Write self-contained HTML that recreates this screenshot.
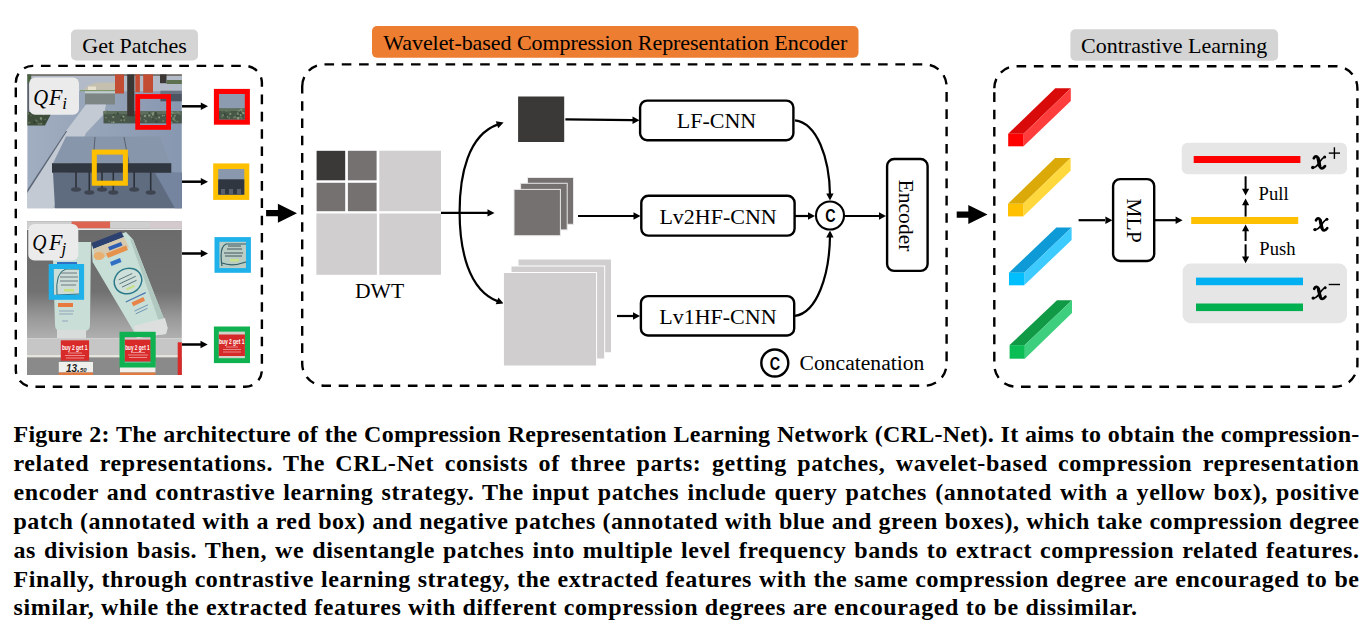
<!DOCTYPE html>
<html><head><meta charset="utf-8">
<style>
html,body{margin:0;padding:0;background:#fff;}
body{width:1371px;height:632px;position:relative;overflow:hidden;}
svg{position:absolute;left:0;top:0;}
.t{font-family:"Liberation Serif",serif;font-size:21.6px;fill:#000;}
.cap{position:absolute;left:13.5px;width:1346px;font-family:"Liberation Serif",serif;font-weight:bold;font-size:24px;color:#000;white-space:nowrap;line-height:28.9px;}
.cap div{height:28.9px;text-align:justify;text-align-last:justify;white-space:normal;}
.cap div.last{text-align-last:left;}
</style></head><body>
<svg width="1371" height="632" viewBox="0 0 1371 632">
<defs>
 <marker id="ah" markerWidth="8" markerHeight="8" refX="7" refY="4" orient="auto" markerUnits="userSpaceOnUse">
  <path d="M0,0.5 L8,4 L0,7.5 Z" fill="#000"/>
 </marker>
</defs>

<!-- ============ LEFT PANEL ============ -->
<rect x="71" y="29.5" width="127" height="31" rx="5" fill="#d4d4d4"/>
<text class="t" style="font-size:22px" x="134.5" y="52.9" text-anchor="middle">Get Patches</text>
<path d="M15.8,82.8 A16.9,16.9 0 0 1 32.7,65.9 L245.0,65.9 A16.9,16.9 0 0 1 261.9,82.8 L261.9,369.9 A16.9,16.9 0 0 1 245.0,386.8 L32.7,386.8 A16.9,16.9 0 0 1 15.8,369.9 Z" fill="none" stroke="#000" stroke-width="2.4" stroke-dasharray="9.6 7.7"/>

<!-- photo 1 -->
<g id="photo1">
 <clipPath id="c1"><rect x="27.2" y="74.2" width="154.6" height="134.2"/></clipPath>
 <linearGradient id="pv" x1="0" y1="0" x2="1" y2="0">
  <stop offset="0" stop-color="#a1adc0"/><stop offset="0.5" stop-color="#95a3b8"/><stop offset="1" stop-color="#8797b0"/>
 </linearGradient>
 <g clip-path="url(#c1)">
  <rect x="27.2" y="74.2" width="155" height="134.2" fill="url(#pv)"/>
  <rect x="27.2" y="74.2" width="155" height="17" fill="#b3bbc8"/>
  <rect x="27.2" y="74.2" width="155" height="1.6" fill="#6a6258"/>
  <path d="M83,91 Q88,83 100,82.5 L118,82.5 L118,91 Z" fill="#c4bfae"/>
  <rect x="88" y="86.5" width="8" height="3.5" fill="#e6e0cc"/>
  <rect x="80" y="90" width="40" height="1.2" fill="#7d9a6a"/>
  <rect x="27.2" y="74.2" width="4" height="9" fill="#4a6242"/><rect x="27.2" y="83" width="2" height="29" fill="#59606a"/>
  <rect x="85" y="91.3" width="30" height="2.4" fill="#c2cccc"/>
  <rect x="85" y="93.5" width="30" height="11" fill="#7d8585"/>
  <polygon points="27.2,112 52,112 45,125.5 27.2,125.5" fill="#3e4d3a"/>
  <polygon points="27.2,208.4 53,208.4 86,133 104,114 106,104.5 86,104.5 66,131 27.2,192" fill="#c3cad3"/>
  <polygon points="27.2,190 66,131 67.2,131 27.2,193" fill="#5a6575"/>
  <rect x="103.5" y="111.2" width="79" height="12.2" fill="#48574a"/>
  <rect x="103.5" y="111.2" width="79" height="3" fill="#5e6e5e"/>
<g><circle cx="122.3" cy="117.5" r="1.2" fill="#3a4a3a"/><circle cx="140.5" cy="117.9" r="0.6" fill="#8a9a80"/><circle cx="168.5" cy="114.4" r="0.7" fill="#7d8f74"/><circle cx="159.2" cy="117.5" r="0.9" fill="#8a9a80"/><circle cx="153.2" cy="113.2" r="1.2" fill="#7d8f74"/><circle cx="144.3" cy="119.7" r="0.7" fill="#6b7d66"/><circle cx="177.7" cy="112.0" r="1.2" fill="#6b7d66"/><circle cx="124.7" cy="118.0" r="1.1" fill="#5a6b55"/><circle cx="174.9" cy="115.8" r="0.9" fill="#8a9a80"/><circle cx="176.0" cy="121.2" r="0.6" fill="#6b7d66"/><circle cx="142.1" cy="114.3" r="1.1" fill="#5a6b55"/><circle cx="169.9" cy="116.1" r="1.0" fill="#5a6b55"/><circle cx="145.1" cy="116.0" r="1.2" fill="#7d8f74"/><circle cx="156.5" cy="121.7" r="1.3" fill="#3a4a3a"/><circle cx="155.7" cy="113.3" r="1.3" fill="#3a4a3a"/><circle cx="173.7" cy="117.8" r="1.0" fill="#7d8f74"/><circle cx="180.1" cy="114.4" r="0.6" fill="#6b7d66"/><circle cx="169.8" cy="122.4" r="0.8" fill="#6b7d66"/><circle cx="109.1" cy="121.4" r="0.8" fill="#6b7d66"/><circle cx="163.2" cy="121.1" r="1.0" fill="#6b7d66"/><circle cx="162.6" cy="115.7" r="0.8" fill="#8a9a80"/><circle cx="171.8" cy="122.3" r="0.8" fill="#8a9a80"/><circle cx="106.8" cy="111.6" r="1.0" fill="#6b7d66"/><circle cx="106.4" cy="113.7" r="0.8" fill="#5a6b55"/><circle cx="124.3" cy="119.1" r="0.8" fill="#3a4a3a"/><circle cx="177.8" cy="121.4" r="0.9" fill="#5a6b55"/><circle cx="171.0" cy="115.7" r="1.1" fill="#8a9a80"/><circle cx="111.9" cy="122.2" r="0.8" fill="#8a9a80"/><circle cx="152.8" cy="119.4" r="0.9" fill="#3a4a3a"/><circle cx="123.9" cy="114.8" r="0.6" fill="#3a4a3a"/><circle cx="136.0" cy="117.9" r="0.9" fill="#6b7d66"/><circle cx="149.4" cy="113.0" r="0.9" fill="#3a4a3a"/><circle cx="156.3" cy="115.4" r="1.1" fill="#3a4a3a"/><circle cx="105.7" cy="112.2" r="1.3" fill="#6b7d66"/><circle cx="123.3" cy="116.5" r="1.0" fill="#8a9a80"/><circle cx="117.7" cy="113.5" r="1.2" fill="#3a4a3a"/><circle cx="124.3" cy="120.2" r="1.1" fill="#6b7d66"/><circle cx="106.1" cy="117.8" r="0.8" fill="#7d8f74"/><circle cx="121.1" cy="120.3" r="0.8" fill="#7d8f74"/><circle cx="156.2" cy="118.6" r="0.7" fill="#6b7d66"/><circle cx="128.8" cy="115.2" r="0.9" fill="#7d8f74"/><circle cx="169.9" cy="113.4" r="1.1" fill="#3a4a3a"/><circle cx="120.8" cy="117.8" r="0.8" fill="#3a4a3a"/><circle cx="113.3" cy="117.3" r="0.8" fill="#7d8f74"/><circle cx="168.4" cy="117.8" r="0.8" fill="#3a4a3a"/><circle cx="167.8" cy="112.4" r="0.8" fill="#8a9a80"/><circle cx="114.0" cy="114.7" r="0.9" fill="#3a4a3a"/><circle cx="152.8" cy="114.7" r="0.9" fill="#8a9a80"/><circle cx="174.9" cy="113.2" r="0.9" fill="#6b7d66"/><circle cx="168.1" cy="118.3" r="0.9" fill="#8a9a80"/><circle cx="177.2" cy="121.7" r="0.6" fill="#7d8f74"/><circle cx="139.2" cy="119.8" r="1.3" fill="#8a9a80"/><circle cx="145.9" cy="121.3" r="1.2" fill="#6b7d66"/><circle cx="178.8" cy="112.8" r="0.6" fill="#7d8f74"/><circle cx="173.6" cy="119.1" r="1.2" fill="#7d8f74"/><circle cx="173.3" cy="117.8" r="0.9" fill="#6b7d66"/><circle cx="113.3" cy="117.0" r="1.1" fill="#7d8f74"/><circle cx="144.4" cy="116.1" r="0.7" fill="#8a9a80"/><circle cx="113.7" cy="122.2" r="0.9" fill="#8a9a80"/><circle cx="164.2" cy="115.4" r="0.7" fill="#7d8f74"/><circle cx="172.3" cy="112.8" r="1.2" fill="#7d8f74"/><circle cx="175.0" cy="120.4" r="0.9" fill="#6b7d66"/><circle cx="148.0" cy="115.9" r="0.8" fill="#3a4a3a"/><circle cx="151.6" cy="117.2" r="0.9" fill="#6b7d66"/><circle cx="163.8" cy="111.5" r="1.1" fill="#6b7d66"/><circle cx="107.6" cy="112.0" r="1.3" fill="#5a6b55"/><circle cx="169.8" cy="112.4" r="0.9" fill="#8a9a80"/><circle cx="116.1" cy="112.3" r="1.1" fill="#5a6b55"/><circle cx="149.2" cy="115.5" r="1.3" fill="#7d8f74"/><circle cx="137.0" cy="112.9" r="1.1" fill="#6b7d66"/><circle cx="34.5" cy="113.5" r="0.6" fill="#7d8f74"/><circle cx="36.0" cy="120.3" r="1.0" fill="#5a6b55"/><circle cx="28.3" cy="123.1" r="0.8" fill="#6b7d66"/><circle cx="36.7" cy="120.9" r="1.2" fill="#5a6b55"/><circle cx="35.2" cy="112.7" r="0.9" fill="#7d8f74"/><circle cx="40.4" cy="113.4" r="0.7" fill="#5a6b55"/><circle cx="29.9" cy="112.8" r="0.8" fill="#2f3d30"/><circle cx="44.1" cy="122.0" r="0.7" fill="#2f3d30"/><circle cx="40.3" cy="123.8" r="1.0" fill="#5a6b55"/><circle cx="41.1" cy="119.3" r="1.1" fill="#6b7d66"/><circle cx="40.8" cy="118.2" r="1.1" fill="#7d8f74"/><circle cx="28.3" cy="113.6" r="1.0" fill="#6b7d66"/><circle cx="34.5" cy="122.3" r="1.1" fill="#2f3d30"/><circle cx="29.7" cy="122.6" r="1.1" fill="#5a6b55"/><circle cx="45.1" cy="119.4" r="0.6" fill="#6b7d66"/><circle cx="41.7" cy="118.6" r="0.7" fill="#7d8f74"/><circle cx="41.4" cy="123.7" r="0.9" fill="#6b7d66"/><circle cx="43.6" cy="114.7" r="0.7" fill="#6b7d66"/><circle cx="30.8" cy="115.5" r="0.8" fill="#5a6b55"/><circle cx="38.6" cy="123.8" r="1.2" fill="#5a6b55"/></g>
  <rect x="160.4" y="90.7" width="22" height="3.5" fill="#6a7382"/>
  <rect x="160.4" y="94" width="22" height="7.3" fill="#4e5562"/>
  <rect x="127.2" y="74.2" width="7.2" height="42" fill="#3b3735"/>
  <rect x="160" y="74.2" width="6.5" height="9" fill="#3b3735"/>
  <rect x="166.5" y="80" width="16" height="4" fill="#5d7050"/>
  <rect x="115" y="74.2" width="9" height="19.3" fill="#c24d32"/>
  <rect x="135.3" y="74.2" width="4.6" height="18" fill="#c24d32"/>
  <rect x="143.2" y="74.2" width="9.8" height="18.5" fill="#c24d32"/>
  <polygon points="66,136.5 160,136.5 170,163.2 53,163.2" fill="#8896ab"/>
  <line x1="95" y1="137" x2="93" y2="163" stroke="#4a5260" stroke-width="0.8"/>
  <line x1="124" y1="137" x2="129" y2="163" stroke="#4a5260" stroke-width="0.8"/>
  <polygon points="53,172.8 182,172.8 182,208.4 55,208.4" fill="#5f6c80"/>
  <polygon points="155,172.8 182,172.8 182,208.4 175,208.4" fill="#7585a0"/>
  <rect x="52" y="163.2" width="119.3" height="9.6" fill="#313740"/>
  <g stroke="#2c3038" stroke-width="1.6">
   <line x1="76" y1="172" x2="76" y2="189"/><line x1="89.3" y1="172" x2="89.3" y2="192"/>
   <line x1="102" y1="172" x2="102" y2="189"/><line x1="113.3" y1="172" x2="113.3" y2="192"/>
   <line x1="134.2" y1="172" x2="134.2" y2="189"/><line x1="150.7" y1="172" x2="150.7" y2="192"/>
  </g>
  <g fill="#3e4450">
   <ellipse cx="76" cy="189.5" rx="5" ry="2.2"/><ellipse cx="89.3" cy="192.5" rx="5" ry="2.2"/>
   <ellipse cx="102" cy="189.5" rx="5" ry="2.2"/><ellipse cx="113.3" cy="192.5" rx="5" ry="2.2"/>
   <ellipse cx="134.2" cy="189.5" rx="5" ry="2.2"/><ellipse cx="150.7" cy="192.5" rx="5" ry="2.2"/>
  </g>
  <rect x="94.3" y="152.1" width="31.1" height="31.1" fill="none" stroke="#ffc000" stroke-width="5"/>
  <rect x="137.7" y="96.5" width="30.9" height="30.9" fill="none" stroke="#ff0000" stroke-width="4.8"/>
 </g>
 <rect x="29.2" y="77.4" width="49.8" height="37.4" rx="6" fill="#ebebeb"/>
 <g style="font-family:'Liberation Serif',serif;font-style:italic;font-size:24px">
  <text transform="translate(33.2,104.7) scale(0.86,1)">Q</text>
  <text transform="translate(49,104.7) scale(0.92,1)">F</text>
  <text x="62.3" y="109.4" style="font-size:17px">i</text>
 </g>
</g>
<!-- photo 2 -->
<g id="photo2">
 <clipPath id="c2"><rect x="27" y="221.3" width="154.8" height="153.8"/></clipPath>
 <linearGradient id="bg2" x1="0" y1="0" x2="0" y2="1">
  <stop offset="0" stop-color="#6a6a6a"/><stop offset="0.6" stop-color="#717171"/><stop offset="0.82" stop-color="#989898"/><stop offset="1" stop-color="#b0b0b0"/>
 </linearGradient>
 <g clip-path="url(#c2)">
  <rect x="27" y="221.3" width="155" height="117" fill="url(#bg2)"/>
  <rect x="27" y="221.3" width="155" height="7.2" fill="#cfcfcf"/>
  <rect x="71.6" y="221.3" width="38.5" height="7" fill="#dc6450"/>
  <rect x="150" y="221.3" width="32" height="7" fill="#d4cacd"/>
  <rect x="27" y="228.5" width="155" height="1.5" fill="#e6e6e6"/>
  <rect x="27" y="338.3" width="155" height="17.2" fill="#c6c6c6"/>
  <rect x="27" y="355.3" width="155" height="2" fill="#e6e6dc"/>
  <rect x="27" y="357.3" width="155" height="18" fill="#8a8a8a"/>
  <!-- left tube -->
  <path d="M52.5,242 L91,242 L90,325 Q90,331 84,331 L61,331 Q55,331 55,325 Z" fill="#c8ded6"/>
  <rect x="57" y="330" width="29" height="8" fill="#d8dcda"/>
  <rect x="58" y="303" width="15" height="4" fill="#e87a40"/>
  <rect x="57" y="262" width="20" height="3" fill="#2f6fc4"/>
  <path d="M57,295 Q55,272 66,269 L80,269 L80,294 Z" fill="#cddcd6" stroke="#2a6a7a" stroke-width="1"/>
  <g stroke="#50606a" stroke-width="0.8"><line x1="61" y1="273" x2="77" y2="273"/><line x1="60" y1="277" x2="78" y2="277"/><line x1="60" y1="281" x2="78" y2="281"/><line x1="61" y1="285" x2="76" y2="285"/></g>
  <rect x="64" y="289" width="10" height="2.5" fill="#c8e080"/>
  <g stroke="#7a90b0" stroke-width="0.7"><line x1="59" y1="311" x2="74" y2="311"/><line x1="59" y1="314" x2="73" y2="314"/><line x1="62" y1="321" x2="68" y2="321"/></g>
  <!-- right tube -->
  <path d="M91.7,246 L126,232 L133,239.5 L167.6,328 L166,334 L137,337.5 L133.5,331 L92.6,262 Z" fill="#c8dfd7"/>
  <path d="M130,239 L133,239.5 L167.6,328 L162,330 Z" fill="#b0c8c0"/>
  <polygon points="91.7,243 121,231.6 124,237 93.2,249" fill="#2d4170"/>
  <polygon points="93.2,249 124,237 129,247.5 95.5,260.5" fill="#d6c9ae"/>
  <ellipse cx="99" cy="256" rx="5.5" ry="4" fill="#e8b070"/>
  <polygon points="108,247 121,242 122.5,245.5 109.5,250.5" fill="#2f5fb4"/>
  <polygon points="106,253.5 126,245.5 128,250 108,258" fill="#e6924c"/>
  <polygon points="110,262 120,258 121.5,262 111.5,266" fill="#2f6fc4"/>
  <g transform="rotate(-25 128 281)">
   <ellipse cx="128" cy="281" rx="14" ry="12.5" fill="#cfe0da" stroke="#2a7a8a" stroke-width="1.5"/>
   <g stroke="#4a6a70" stroke-width="0.8"><line x1="120" y1="276" x2="135" y2="276"/><line x1="119" y1="280" x2="137" y2="280"/><line x1="120" y1="284" x2="136" y2="284"/></g>
   <rect x="123" y="287" width="9" height="2.2" fill="#c6df88"/>
  </g>
  <g transform="rotate(-25 137 300)">
   <line x1="126" y1="297" x2="148" y2="297" stroke="#4a78b0" stroke-width="1.2"/>
   <rect x="131" y="300" width="13" height="4" fill="#e8844a"/>
   <line x1="130" y1="309" x2="145" y2="309" stroke="#6a8ab0" stroke-width="0.8"/>
   <line x1="130" y1="312" x2="143" y2="312" stroke="#6a8ab0" stroke-width="0.8"/>
  </g>
  <polygon points="133.5,326 165,318 167.6,328 166,334 137,338" fill="#dcdfde"/>
  <!-- tags -->
  <rect x="60.8" y="340.3" width="28.3" height="20.4" fill="#d92a2a"/>
  <rect x="124.5" y="339.7" width="26.3" height="21.6" fill="#d92a2a"/>
  <rect x="177.7" y="342.3" width="5" height="33" fill="#d92a2a"/>
  <rect x="58.8" y="362" width="34.2" height="10.5" fill="#efefec"/>
  <rect x="58.8" y="372.5" width="34.2" height="3" fill="#e07a40"/>
  <rect x="120" y="362" width="35.4" height="10.5" fill="#efefec"/>
  <rect x="120" y="372.5" width="35.4" height="3" fill="#e07a40"/>
  <g style="font-family:'Liberation Sans',sans-serif;font-weight:bold;font-size:8px" fill="#fff">
   <text x="62" y="350" textLength="25.5" lengthAdjust="spacingAndGlyphs">buy 2 get 1</text>
   <text x="125.2" y="349.5" textLength="24.5" lengthAdjust="spacingAndGlyphs">buy 2 get 1</text>
  </g>
  <g stroke="#f3b8b8" stroke-width="0.7">
   <line x1="68" y1="353" x2="82" y2="353"/><line x1="65" y1="355.5" x2="85" y2="355.5"/><line x1="66" y1="358" x2="84" y2="358"/>
   <line x1="131" y1="352.5" x2="145" y2="352.5"/><line x1="128" y1="355" x2="148" y2="355"/><line x1="129" y1="357.5" x2="147" y2="357.5"/>
  </g>
  <text x="66" y="372" style="font-family:'Liberation Sans',sans-serif;font-style:italic;font-weight:bold;font-size:10px" fill="#222">13.<tspan font-size="6">50</tspan></text>
  <rect x="51.2" y="266.5" width="30.4" height="30.8" fill="none" stroke="#1fb1ea" stroke-width="5"/>
  <rect x="122.1" y="334.4" width="31" height="30.5" fill="none" stroke="#0fb151" stroke-width="5.2"/>
 </g>
 <rect x="28.3" y="223.9" width="50" height="36.7" rx="6" fill="#ebebeb"/>
 <g style="font-family:'Liberation Serif',serif;font-style:italic;font-size:24px">
  <text transform="translate(32.2,249.8) scale(0.82,1)">Q</text>
  <text transform="translate(49,249.8) scale(0.92,1)">F</text>
  <text x="61.5" y="254.3" style="font-size:17px">j</text>
 </g>
</g>
<!-- left arrows -->
<g stroke="#000" stroke-width="2.5">
 <line x1="182" y1="106.3" x2="202" y2="106.3"/>
 <line x1="182" y1="181.7" x2="202" y2="181.7"/>
 <line x1="182" y1="253.5" x2="202" y2="253.5"/>
 <line x1="182" y1="344.5" x2="202" y2="344.5"/>
</g>
<g fill="#000">
 <path d="M200.8,102.6 L208.0,106.3 L200.8,110.0 Z"/>
 <path d="M200.8,178.0 L208.0,181.7 L200.8,185.4 Z"/>
 <path d="M200.8,249.8 L208.0,253.5 L200.8,257.2 Z"/>
 <path d="M200.5,340.8 L207.7,344.5 L200.5,348.2 Z"/>
</g>

<!-- patches -->
<rect x="213.9" y="88.9" width="36" height="35.8" fill="#ff0000"/>
<rect x="219" y="94" width="25.8" height="25.5" fill="#8d9bb1"/>
<rect x="219" y="108.5" width="25.8" height="11" fill="#475747"/>
<rect x="219" y="108.5" width="25.8" height="2.5" fill="#5f705d"/>
<g><circle cx="228.8" cy="111.4" r="1.2" fill="#5a6b55"/><circle cx="243.5" cy="113.2" r="1.1" fill="#8a9a80"/><circle cx="236.2" cy="114.2" r="0.7" fill="#5a6b55"/><circle cx="229.4" cy="117.9" r="0.7" fill="#7d8f74"/><circle cx="238.1" cy="118.2" r="1.3" fill="#8a9a80"/><circle cx="234.0" cy="117.6" r="0.8" fill="#7d8f74"/><circle cx="224.4" cy="114.9" r="1.3" fill="#354535"/><circle cx="240.6" cy="114.4" r="1.1" fill="#354535"/><circle cx="240.7" cy="115.0" r="1.0" fill="#8a9a80"/><circle cx="226.1" cy="111.2" r="0.8" fill="#6b7d66"/><circle cx="239.4" cy="111.0" r="0.9" fill="#8a9a80"/><circle cx="227.5" cy="116.7" r="0.9" fill="#7d8f74"/><circle cx="236.8" cy="116.0" r="0.9" fill="#7d8f74"/><circle cx="240.2" cy="117.2" r="0.6" fill="#8a9a80"/><circle cx="244.1" cy="109.7" r="1.1" fill="#5a6b55"/><circle cx="241.4" cy="109.5" r="1.2" fill="#7d8f74"/><circle cx="235.6" cy="116.8" r="1.3" fill="#6b7d66"/><circle cx="240.7" cy="111.4" r="1.1" fill="#7d8f74"/><circle cx="222.9" cy="115.2" r="1.2" fill="#6b7d66"/><circle cx="225.8" cy="117.7" r="0.7" fill="#354535"/><circle cx="221.8" cy="117.0" r="0.7" fill="#6b7d66"/><circle cx="240.2" cy="111.9" r="0.9" fill="#354535"/><circle cx="237.7" cy="112.4" r="0.8" fill="#6b7d66"/><circle cx="230.3" cy="113.9" r="1.1" fill="#7d8f74"/><circle cx="237.9" cy="113.9" r="1.0" fill="#7d8f74"/><circle cx="222.5" cy="111.7" r="0.7" fill="#5a6b55"/><circle cx="241.5" cy="118.1" r="1.0" fill="#6b7d66"/><circle cx="236.9" cy="115.8" r="1.1" fill="#354535"/><circle cx="226.8" cy="115.8" r="0.7" fill="#354535"/><circle cx="242.9" cy="112.4" r="1.0" fill="#8a9a80"/></g>
<rect x="213.2" y="163.4" width="36.1" height="36.5" fill="#ffc000"/>
<rect x="218.2" y="169" width="26.1" height="25.7" fill="#8a98ad"/>
<rect x="218.2" y="179.3" width="26.1" height="15.4" fill="#30363f"/>
<g fill="#59606c"><rect x="221" y="189" width="4" height="5.7"/><rect x="229" y="189" width="4" height="5.7"/><rect x="237" y="189" width="4" height="5.7"/></g>
<rect x="214.5" y="237.1" width="36.4" height="35.7" fill="#1fb1ea"/>
<rect x="219.4" y="241.8" width="26.6" height="26.3" fill="#b9cdc5"/>
<path d="M222,266 Q219,247 226,244 L246,244" fill="none" stroke="#2f5f6a" stroke-width="1.2"/>
<path d="M222,263 Q232,267 246,262" fill="none" stroke="#2f5f6a" stroke-width="1.2"/>
<g stroke="#44545a" stroke-width="1"><line x1="228" y1="246" x2="241" y2="246"/><line x1="227" y1="249" x2="242" y2="249"/><line x1="224" y1="253" x2="243" y2="253"/><line x1="225" y1="256" x2="242" y2="256"/></g>
<rect x="230" y="259" width="9" height="2.5" fill="#c6df88"/>
<rect x="213.9" y="326.5" width="36.1" height="36.6" fill="#0fb151"/>
<rect x="218.8" y="331.6" width="26.1" height="26.6" fill="#d3d0c8"/>
<rect x="218.8" y="334.5" width="26.1" height="21.5" fill="#d62a2a"/>
<text x="219" y="343.5" fill="#fff" style="font-family:'Liberation Sans',sans-serif;font-weight:bold;font-size:7px" textLength="25.5" lengthAdjust="spacingAndGlyphs">buy 2 get 1</text>
<g stroke="#f0b0b0" stroke-width="0.7"><line x1="226" y1="347" x2="238" y2="347"/><line x1="223" y1="349.5" x2="241" y2="349.5"/><line x1="223" y1="352" x2="241" y2="352"/></g>
<!-- thick arrows -->
<path d="M266.1,210.1 H277.9 V203.7 L297,213.2 L277.9,222.7 V216.3 H266.1 Z" fill="#000"/>
<path d="M956.7,211.6 H968.3 V205.1 L987.5,214.6 L968.3,224.1 V217.7 H956.7 Z" fill="#000"/>

<!-- ============ MIDDLE PANEL ============ -->
<rect x="372" y="26.1" width="486.5" height="31.6" rx="5" fill="#ed7d31"/>
<text class="t" x="383.3" y="49.9" textLength="464" style="font-size:22px">Wavelet-based Compression Representation Encoder</text>
<path d="M302.2,86.4 A22.0,22.0 0 0 1 324.2,64.4 L924.6,64.4 A22.0,22.0 0 0 1 946.6,86.4 L946.6,363.7 A22.0,22.0 0 0 1 924.6,385.7 L324.2,385.7 A22.0,22.0 0 0 1 302.2,363.7 Z" fill="none" stroke="#000" stroke-width="2.4" stroke-dasharray="9.6 7.7"/>

<!-- DWT grid -->
<g fill="#d0cece">
 <rect x="379.3" y="150.7" width="61.7" height="60.5"/>
 <rect x="316.4" y="213.5" width="60.5" height="61.3"/>
 <rect x="379.3" y="213.5" width="61.7" height="61.3"/>
</g>
<rect x="316.6" y="150.8" width="28.6" height="29.5" fill="#3b3838"/>
<g fill="#767171">
 <rect x="347.9" y="150.8" width="28.7" height="29.5"/>
 <rect x="316.6" y="182.8" width="28.6" height="28.4"/>
 <rect x="347.9" y="182.8" width="28.7" height="28.4"/>
</g>
<text class="t" x="379.5" y="298.2" text-anchor="middle">DWT</text>

<!-- arrows from DWT -->
<g fill="none" stroke="#000" stroke-width="2.2">
 <line x1="441" y1="212.9" x2="488" y2="212.9"/>
 <path d="M498,124.4 C468,135 459.6,175 459.6,212 C459.6,249 468,290 498,301.4"/>
</g>
<g fill="#000">
<path d="M494.5,212.9 L487.5,216.6 L487.5,209.2 Z"/><path d="M503.6,122.4 L498.2,128.2 L495.8,121.3 Z"/><path d="M503.6,303.4 L495.7,304.3 L498.4,297.4 Z"/>
</g>
<!-- LF square -->
<rect x="518.1" y="96.5" width="46.1" height="45.5" fill="#3b3838"/>
<!-- Lv2 stack -->
<rect x="527.5" y="177.5" width="46" height="46.8" fill="#767171" stroke="#e8e8e8" stroke-width="1"/>
<rect x="520.6" y="183.3" width="46.6" height="46.6" fill="#767171" stroke="#e8e8e8" stroke-width="1"/>
<rect x="514" y="189.4" width="46.4" height="46.3" fill="#767171" stroke="#e8e8e8" stroke-width="1"/>
<!-- Lv1 stack -->
<rect x="518" y="259" width="93.5" height="93.8" fill="#d0cece" stroke="#fff" stroke-width="1"/>
<rect x="511" y="266" width="93.7" height="93" fill="#d0cece" stroke="#fff" stroke-width="1"/>
<rect x="503.4" y="272.5" width="93.2" height="93.5" fill="#d0cece" stroke="#fff" stroke-width="1"/>

<!-- CNN boxes -->
<g fill="#fff" stroke="#000" stroke-width="2.4">
 <rect x="640.1" y="100.6" width="153.3" height="39.6" rx="7"/>
 <rect x="641.3" y="195.8" width="153.3" height="39.8" rx="7"/>
 <rect x="640.9" y="296.1" width="153.3" height="39.4" rx="7"/>
 <rect x="887.1" y="159" width="40.5" height="111.9" rx="7"/>
</g>
<circle cx="830" cy="215.5" r="14" fill="#fff" stroke="#000" stroke-width="2.1"/>
<text class="t" style="font-size:22px" x="716.5" y="128" text-anchor="middle">LF-CNN</text>
<text class="t" style="font-size:22px" x="718.1" y="223.7" text-anchor="middle">Lv2HF-CNN</text>
<text class="t" style="font-size:22px" x="717.9" y="323.8" text-anchor="middle">Lv1HF-CNN</text>
<text class="t" transform="translate(899,215.5) rotate(90)" text-anchor="middle">Encoder</text>
<text transform="translate(830.4,221.9) scale(0.82,1)" text-anchor="middle" style="font-family:'Liberation Sans',sans-serif;font-weight:bold;font-size:17.5px">C</text>

<!-- middle arrows -->
<g fill="none" stroke="#000" stroke-width="2.2">
 <line x1="565.4" y1="119.3" x2="633" y2="120.2"/>
 <line x1="578" y1="216" x2="634" y2="216"/>
 <line x1="617" y1="316" x2="634" y2="316"/>
 <line x1="795" y1="216" x2="809" y2="216"/>
 <line x1="844.5" y1="216" x2="880" y2="216"/>
 <path d="M795,120.4 C817,123 829.5,158 830,195"/>
 <path d="M795,315.8 C817,313 829.5,275 830,236"/>
</g>
<g fill="#000">
<path d="M639.5,120.3 L632.5,123.9 L632.5,116.5 Z"/><path d="M640.5,216.0 L633.5,219.7 L633.5,212.3 Z"/><path d="M640.0,316.0 L633.0,319.7 L633.0,312.3 Z"/><path d="M815.0,216.0 L808.0,219.7 L808.0,212.3 Z"/><path d="M886.0,216.0 L879.0,219.7 L879.0,212.3 Z"/><path d="M830.0,200.6 L826.2,193.6 L833.6,193.6 Z"/><path d="M830.0,230.4 L833.6,237.4 L826.2,237.4 Z"/>
</g>

<!-- concatenation legend -->
<circle cx="774.8" cy="363" r="13.5" fill="#fff" stroke="#000" stroke-width="2.4"/>
<text transform="translate(775,370) scale(0.82,1)" text-anchor="middle" style="font-family:'Liberation Sans',sans-serif;font-weight:bold;font-size:17.5px">C</text>
<text class="t" x="799.6" y="369.8">Concatenation</text>

<!-- ============ RIGHT PANEL ============ -->
<rect x="1070.4" y="29.2" width="207.7" height="31.6" rx="5" fill="#d4d4d4"/>
<text class="t" style="font-size:22px" x="1174.2" y="52.7" text-anchor="middle">Contrastive Learning</text>
<path d="M994.3,88.2 A22.0,22.0 0 0 1 1016.3,66.2 L1335.4,66.2 A22.0,22.0 0 0 1 1357.4,88.2 L1357.4,364.7 A22.0,22.0 0 0 1 1335.4,386.7 L1016.3,386.7 A22.0,22.0 0 0 1 994.3,364.7 Z" fill="none" stroke="#000" stroke-width="2.4" stroke-dasharray="9.6 7.7"/>

<!-- 3D bars -->
<g id="bars">
 <!-- red -->
 <polygon points="1008.2,133.7 1055.3,88.3 1070.8,88.3 1023.6,133.7" fill="#d90a0a"/>
 <polygon points="1023.6,133.7 1070.8,88.3 1070.8,101 1023.6,146.3" fill="#ff3d3d"/>
 <rect x="1008.2" y="133.7" width="15.4" height="12.6" fill="#ff0000"/>
 <!-- yellow -->
 <polygon points="1008,203.8 1055.1,158.1 1070.6,158.1 1023.2,203.8" fill="#dcaa08"/>
 <polygon points="1023.2,203.8 1070.6,158.1 1070.6,170.8 1023.2,216.4" fill="#ffd83d"/>
 <rect x="1008" y="203.8" width="15.2" height="12.6" fill="#ffc000"/>
 <!-- blue -->
 <polygon points="1009,272.7 1056.4,227.5 1071.6,227.5 1024.2,272.7" fill="#0d9ad6"/>
 <polygon points="1024.2,272.7 1071.6,227.5 1071.6,240 1024.2,285.3" fill="#3dcaff"/>
 <rect x="1009" y="272.7" width="15.2" height="12.6" fill="#00bfff"/>
 <!-- green -->
 <polygon points="1009.6,345.1 1057,300.2 1072,300.2 1024.8,345.1" fill="#109a46"/>
 <polygon points="1024.8,345.1 1072,300.2 1072,313 1024.8,358.7" fill="#3dcf7d"/>
 <rect x="1009.6" y="345.1" width="15.2" height="13.6" fill="#0bbd55"/>
</g>

<!-- MLP -->
<rect x="1113.1" y="179.1" width="41.1" height="81.9" rx="7" fill="#fff" stroke="#000" stroke-width="2.4"/>
<text class="t" transform="translate(1133.7,220.5) rotate(90)" text-anchor="middle" dy="7">MLP</text>
<g fill="none" stroke="#000" stroke-width="2.2">
 <line x1="1078.6" y1="220.2" x2="1105" y2="220.2"/>
 <line x1="1154.5" y1="220.2" x2="1176" y2="220.2"/>
</g>
<g fill="#000">
 <path d="M1105.4,216.5 L1112.4,220.2 L1105.4,223.9 Z"/>
 <path d="M1175.6,216.5 L1182.6,220.2 L1175.6,223.9 Z"/>
</g>

<!-- x+ / x- boxes -->
<rect x="1181.7" y="142.7" width="165.3" height="31.6" rx="6" fill="#e7e6e6"/>
<rect x="1193.7" y="156" width="106.7" height="7" fill="#ff0000"/>
<rect x="1182.6" y="263.6" width="164.4" height="59.6" rx="8" fill="#e7e6e6"/>
<rect x="1196" y="277.6" width="107" height="7.6" fill="#00b0f0"/>
<rect x="1196" y="303.5" width="107" height="7.6" fill="#00b050"/>
<rect x="1191.2" y="217" width="107" height="7" fill="#ffc000"/>

<!-- pull/push arrows -->
<g fill="none" stroke="#000" stroke-width="2">
 <line x1="1245.6" y1="176.3" x2="1245.6" y2="190"/>
 <line x1="1245.6" y1="216.6" x2="1245.6" y2="204"/>
 <line x1="1245.6" y1="230" x2="1245.6" y2="241"/>
 <line x1="1245.6" y1="244.3" x2="1245.6" y2="257.5"/>
</g>
<g fill="#000">
 <path d="M1242,188.8 L1245.6,195.5 L1249.2,188.8 Z"/>
 <path d="M1242,205.2 L1245.6,198.5 L1249.2,205.2 Z"/>
 <path d="M1242,231.2 L1245.6,224.5 L1249.2,231.2 Z"/>
 <path d="M1242,256.6 L1245.6,263.3 L1249.2,256.6 Z"/>
</g>
<text class="t" x="1258.6" y="199.7" style="font-size:18.6px">Pull</text>
<text class="t" x="1259.3" y="254.6" style="font-size:18.6px">Push</text>

<defs><g id="xg">
 <path d="M2.4,2.9 C3.3,0.9 5.7,0.0 6.6,2.6 L8.6,11.6 C9.3,13.6 11.4,13.7 13.6,10.8" fill="none" stroke="#000" stroke-width="2.7" stroke-linecap="round"/>
 <path d="M13.7,1.5 C11,2.6 8.7,5.8 7.1,8.4 C5.6,10.6 3.6,12.5 0.9,12.4" fill="none" stroke="#000" stroke-width="1.6" stroke-linecap="round"/>
 <circle cx="13.3" cy="1.8" r="1.5"/><circle cx="1.4" cy="12.2" r="1.7"/>
 <path d="M6.7,3.2 L8.3,10.6" stroke="#000" stroke-width="3.3" stroke-linecap="round"/>
</g></defs>
<use href="#xg" x="1311.4" y="155.3"/>
<use href="#xg" x="1313.6" y="217.4"/>
<use href="#xg" x="1311.8" y="285.9"/>
<g stroke="#000" stroke-width="1.4">
 <line x1="1328.8" y1="153.1" x2="1340" y2="153.1"/><line x1="1334.4" y1="147.3" x2="1334.4" y2="158.9"/>
 <line x1="1328.7" y1="284.5" x2="1340" y2="284.5"/>
</g>
</svg>

<div class="cap" style="top:420.1px">
<div style="letter-spacing:0.26px">Figure 2: The architecture of the Compression Representation Learning Network (CRL-Net). It aims to obtain the compression-</div>
<div style="letter-spacing:0.6px">related representations. The CRL-Net consists of three parts: getting patches, wavelet-based compression representation</div>
<div style="letter-spacing:0.6px">encoder and contrastive learning strategy. The input patches include query patches (annotated with a yellow box), positive</div>
<div style="letter-spacing:0.48px">patch (annotated with a red box) and negative patches (annotated with blue and green boxes), which take compression degree</div>
<div style="letter-spacing:0.6px">as division basis. Then, we disentangle patches into multiple level frequency bands to extract compression related features.</div>
<div style="letter-spacing:0.55px">Finally, through contrastive learning strategy, the extracted features with the same compression degree are encouraged to be</div>
<div class="last" style="letter-spacing:0.63px">similar, while the extracted features with different compression degrees are encouraged to be dissimilar.</div>
</div>
</body></html>
